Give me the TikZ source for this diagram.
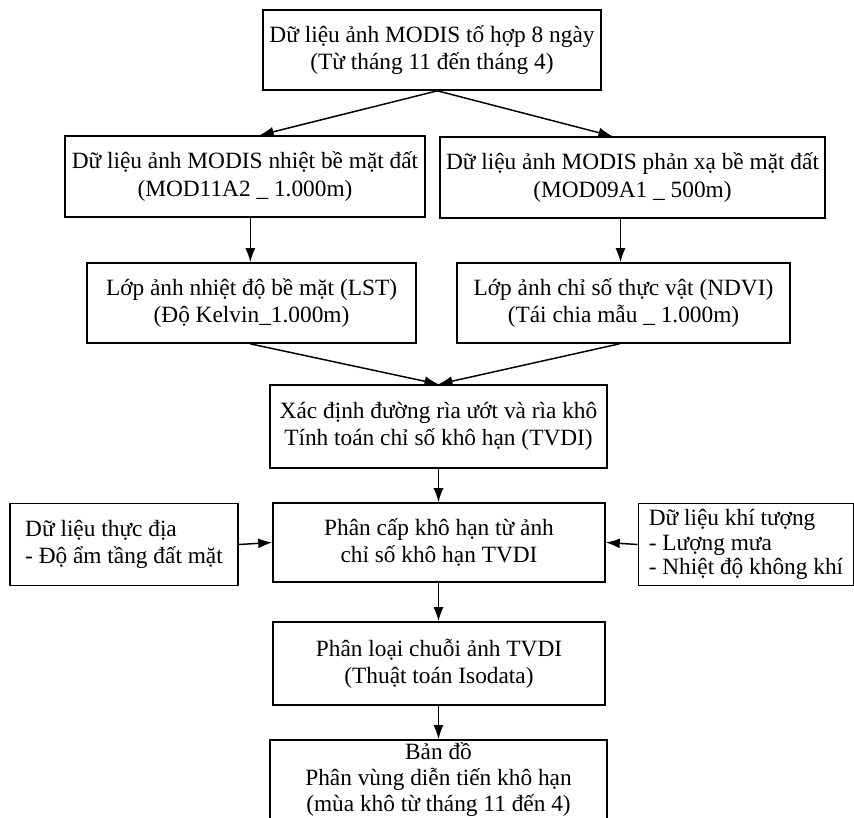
\documentclass[tikz,border=0pt]{standalone}
\usepackage{fontspec}
\setmainfont{Liberation Serif}
\usetikzlibrary{arrows.meta}

\tikzset{
  box/.style={draw, rectangle, line width=1.2pt, inner sep=2pt, align=center,
    font=\fontsize{17.5}{20.5}\selectfont},
  arr/.style={-{Latex[length=10.5pt,width=7.5pt]}, line width=1.1pt},
}

\begin{document}
\begin{tikzpicture}[x=0.75pt,y=-0.75pt]
\clip (0,0) rectangle (854,818);

% main column
\node[box, minimum width=253.5pt, minimum height=60pt] (modis) at (432,50)
  {Dữ liệu ảnh MODIS tố hợp 8 ngày\\(Từ tháng 11 đến tháng 4)};
\node[box, minimum width=270pt, minimum height=60.75pt] (lstsrc) at (245,176.5)
  {Dữ liệu ảnh MODIS nhiệt bề mặt đất\\(MOD11A2 \_ 1.000m)};
\node[box, minimum width=288.75pt, minimum height=60.75pt] (refsrc) at (632.5,177.5)
  {Dữ liệu ảnh MODIS phản xạ bề mặt đất\\(MOD09A1 \_ 500m)};
\node[box, minimum width=246.75pt, minimum height=60pt] (lst) at (251.5,303)
  {Lớp ảnh nhiệt độ bề mặt (LST)\\(Độ Kelvin\_1.000m)};
\node[box, minimum width=249.75pt, minimum height=60pt] (ndvi) at (623.5,303)
  {Lớp ảnh chỉ số thực vật (NDVI)\\(Tái chia mẫu \_ 1.000m)};
\node[box, minimum width=252.75pt, minimum height=62.25pt] (tvdi) at (438.5,426.5)
  {Xác định đường rìa ướt và rìa khô\\Tính toán chỉ số khô hạn (TVDI)};
\node[box, minimum width=249pt, minimum height=59.25pt] (grade) at (439,542.5)
  {Phân cấp khô hạn từ ảnh\\chỉ số khô hạn TVDI};
\node[box, minimum width=249pt, minimum height=62.25pt] (isodata) at (439,663.5)
  {Phân loại chuỗi ảnh TVDI\\(Thuật toán Isodata)};
\node[box, minimum width=252.75pt, minimum height=60pt,
  font=\fontsize{17.5}{19.5}\selectfont] (map) at (438.5,780)
  {Bản đồ\\Phân vùng diễn tiến khô hạn\\(mùa khô từ tháng 11 đến 4)};

% side inputs
\node[box, align=left, minimum width=171pt, minimum height=61.5pt] (field) at (124,544.5)
  {Dữ liệu thực địa\\- Độ ẩm tầng đất mặt};
\node[box, align=left, minimum width=161.25pt, minimum height=61.5pt,
  font=\fontsize{17.5}{18.5}\selectfont] (meteo) at (746,544.5)
  {Dữ liệu khí tượng\\- Lượng mưa\\- Nhiệt độ không khí};

% arrows
\coordinate (fork) at ([xshift=4pt]modis.south);
\coordinate (lsrcout) at ([xshift=4pt]lstsrc.south);
\coordinate (rsrcout) at ([xshift=-9pt]refsrc.south);
\draw[arr] (fork) -- ([xshift=11pt]lstsrc.north);
\draw[arr] (fork) -- ([xshift=-15pt]refsrc.north);
\draw[arr] (lsrcout) -- (lsrcout |- lst.north);
\draw[arr] (rsrcout) -- (rsrcout |- ndvi.north);
\draw[arr] ([xshift=-1pt]lst.south) -- (tvdi.north);
\draw[arr] ([xshift=-3pt]ndvi.south) -- (tvdi.north);
\draw[arr] (tvdi.south) -- (tvdi.south |- grade.north);
\draw[arr] (field.east) -- (grade.west);
\draw[arr] (meteo.west) -- (grade.east);
\draw[arr] (tvdi.south |- grade.south) -- (tvdi.south |- isodata.north);
\draw[arr] (tvdi.south |- isodata.south) -- (tvdi.south |- map.north);
\end{tikzpicture}
\end{document}
